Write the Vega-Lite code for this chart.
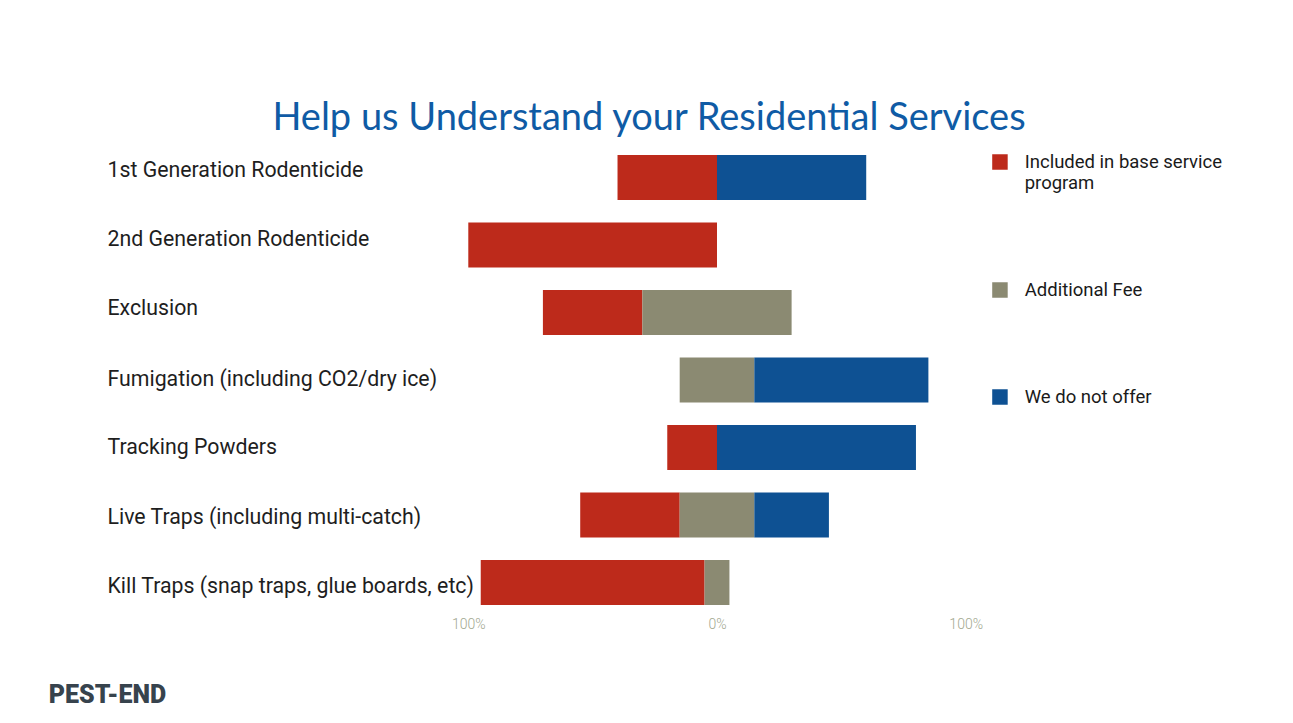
{
  "$schema": "https://vega.github.io/schema/vega-lite/v6.json",
  "width": 497.4,
  "height": 472.5,
  "autosize": {"type": "none"},
  "padding": {"left": 468.3, "top": 143.75, "right": 327.3, "bottom": 106.75},
  "background": "white",
  "config": {"view": {"stroke": null}},
  "title": {
    "text": "Help us Understand your Residential Services",
    "font": "Lato",
    "fontSize": 38,
    "fontWeight": "normal",
    "color": "#0f5ba5",
    "anchor": "middle",
    "frame": "group",
    "dx": -68,
    "offset": 6
  },
  "data": {
    "values": [
      {"service": "1st Generation Rodenticide", "response": "Included in base service program", "start": -40, "end": 0},
      {"service": "1st Generation Rodenticide", "response": "We do not offer", "start": 0, "end": 60},
      {"service": "2nd Generation Rodenticide", "response": "Included in base service program", "start": -100, "end": 0},
      {"service": "Exclusion", "response": "Included in base service program", "start": -70, "end": -30},
      {"service": "Exclusion", "response": "Additional Fee", "start": -30, "end": 30},
      {"service": "Fumigation (including CO2/dry ice)", "response": "Additional Fee", "start": -15, "end": 15},
      {"service": "Fumigation (including CO2/dry ice)", "response": "We do not offer", "start": 15, "end": 85},
      {"service": "Tracking Powders", "response": "Included in base service program", "start": -20, "end": 0},
      {"service": "Tracking Powders", "response": "We do not offer", "start": 0, "end": 80},
      {"service": "Live Traps (including multi-catch)", "response": "Included in base service program", "start": -55, "end": -15},
      {"service": "Live Traps (including multi-catch)", "response": "Additional Fee", "start": -15, "end": 15},
      {"service": "Live Traps (including multi-catch)", "response": "We do not offer", "start": 15, "end": 45},
      {"service": "Kill Traps (snap traps, glue boards, etc)", "response": "Included in base service program", "start": -95, "end": -5},
      {"service": "Kill Traps (snap traps, glue boards, etc)", "response": "Additional Fee", "start": -5, "end": 5}
    ]
  },
  "mark": {"type": "bar"},
  "encoding": {
    "y": {
      "field": "service",
      "type": "nominal",
      "sort": null,
      "scale": {"paddingInner": 0.333, "paddingOuter": 0.1667},
      "axis": {
        "title": null,
        "domain": false,
        "ticks": false,
        "grid": false,
        "labelAlign": "left",
        "labelPadding": 361.3,
        "labelFont": "Roboto",
        "labelFontSize": 21.3,
        "labelColor": "#1e1e1e",
        "labelLimit": 420,
        "labelOffset": {
          "condition": [
            {"test": "datum.value === '1st Generation Rodenticide'", "value": -6.5},
            {"test": "datum.value === '2nd Generation Rodenticide'", "value": -5},
            {"test": "datum.value === 'Exclusion'", "value": -3.5},
            {"test": "datum.value === 'Tracking Powders'", "value": 0.5},
            {"test": "datum.value === 'Live Traps (including multi-catch)'", "value": 3},
            {"test": "datum.value === 'Kill Traps (snap traps, glue boards, etc)'", "value": 4.5}
          ],
          "value": 0
        }
      }
    },
    "x": {
      "field": "start",
      "type": "quantitative",
      "scale": {"domain": [-100, 100], "nice": false},
      "axis": {
        "title": "PEST-END",
        "values": [-100, 0, 100],
        "labelExpr": "abs(datum.value) + '%'",
        "labelFlush": false,
        "domain": false,
        "ticks": false,
        "grid": false,
        "labelPadding": 1,
        "labelFont": "Roboto",
        "labelFontWeight": 300,
        "labelFontSize": 14,
        "labelColor": "#a2a88f",
        "titleX": -420,
        "titleY": 78,
        "titleAlign": "left",
        "titleAnchor": "start",
        "titleBaseline": "middle",
        "titleFont": "Roboto",
        "titleFontSize": 25,
        "titleFontWeight": 900,
        "titleColor": "#37434d"
      }
    },
    "x2": {"field": "end"},
    "color": {
      "field": "response",
      "type": "nominal",
      "scale": {
        "domain": ["Included in base service program", "Additional Fee", "We do not offer"],
        "range": ["#bd2a1b", "#8b8a72", "#0e5193"]
      },
      "legend": {
        "title": null,
        "orient": "none",
        "legendX": 522.4,
        "legendY": 9,
        "symbolType": "square",
        "symbolSize": 240,
        "symbolStrokeWidth": 0,
        "symbolOpacity": 1,
        "labelFont": "Roboto",
        "labelFontSize": 18.5,
        "labelColor": "#1a1a1a",
        "labelLimit": 300,
        "labelOffset": 15.5,
        "rowPadding": 88,
        "labelExpr": "datum.label == 'Included in base service program' ? ['Included in base service', 'program'] : datum.label"
      }
    }
  }
}
